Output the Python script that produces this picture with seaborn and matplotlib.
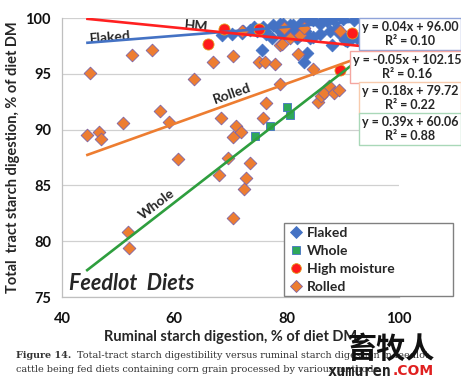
import numpy as np
import pandas as pd
import matplotlib
matplotlib.use("Agg")
import matplotlib.pyplot as plt
import seaborn as sns
from matplotlib.lines import Line2D
from matplotlib.patches import Rectangle

# ---------------- data ----------------
flaked_x = [68.4, 70.2, 72.0, 72.3, 73.5, 74.1, 74.8, 75.6, 75.8, 76.1, 76.4, 77.3, 77.6,
            78.8, 78.8, 79.4, 79.4, 80.6, 80.6, 81.2, 81.5, 81.8, 82.4, 83.0, 83.0, 83.3,
            83.6, 83.7, 84.2, 84.7, 84.7, 85.9, 85.9, 86.5, 87.1, 87.7, 88.0, 88.3, 88.9,
            89.5, 90.1, 90.4, 90.7, 91.3, 91.6, 91.9, 92.5, 93.6, 93.8]
flaked_y = [98.5, 98.6, 98.7, 98.8, 98.9, 99.2, 98.8, 97.1, 99.2, 98.8, 98.6, 98.2, 99.4,
            99.5, 98.8, 99.5, 98.5, 99.4, 98.6, 99.4, 98.8, 98.2, 99.5, 99.7, 96.1, 98.8,
            99.7, 96.9, 98.2, 99.8, 98.3, 99.5, 98.6, 99.8, 99.7, 98.8, 97.6, 99.9, 99.1,
            98.6, 99.9, 98.0, 97.9, 98.5, 98.2, 99.8, 98.2, 99.7, 99.8]

whole_x = [74.4, 77.0, 80.1, 80.6]
whole_y = [89.4, 90.3, 92.05, 91.3]

hm_x = [66.0, 68.9, 75.1, 89.5, 91.6]
hm_y = [97.7, 99.0, 99.0, 95.3, 98.7]

rolled_x = [44.5, 44.9, 46.5, 47.0, 50.9, 51.8, 51.9, 52.4, 56.1, 57.5, 59.1, 60.6, 63.5,
            66.9, 68.0, 68.3, 69.6, 70.4, 70.5, 70.5, 70.9, 71.9, 72.0, 72.4, 72.8, 73.4,
            75.1, 75.8, 76.2, 76.4, 77.9, 78.8, 78.8, 79.1, 79.6, 80.6, 82.1, 82.4, 83.1,
            84.6, 85.6, 86.2, 86.7, 87.5, 88.4, 89.3, 89.5]
rolled_y = [89.5, 95.1, 89.75, 89.2, 90.6, 80.8, 79.4, 96.7, 97.1, 91.7, 90.65, 87.4, 94.5,
            96.1, 85.9, 91.0, 87.5, 89.3, 96.6, 82.1, 90.35, 89.75, 98.8, 84.7, 85.7, 87.0,
            96.06, 91.0, 96.06, 92.4, 95.9, 94.1, 97.6, 97.7, 99.1, 98.2, 96.8, 98.5, 99.1,
            95.4, 92.5, 93.0, 93.25, 93.9, 93.3, 93.55, 98.8]

series = ["Flaked", "Whole", "High moisture", "Rolled"]
slopes = [0.04, 0.39, -0.05, 0.18]
intercepts = [96.00, 60.06, 102.15, 79.72]
r2 = [0.10, 0.88, 0.16, 0.22]
trend_range = [44.3, 93.0]

x_ticks = [40, 60, 80, 100]
y_ticks = [75, 80, 85, 90, 95, 100]

# ---------------- style ----------------
sns.set_style("white")
plt.rcParams["font.family"] = ["Lato", "DejaVu Sans"]

colors = {"Flaked": "#4472C4", "Whole": "#2EA85A", "High moisture": "#FF1A1A", "Rolled": "#ED7D31"}
edges = {"Flaked": "#4472C4", "Whole": "#4472C4", "High moisture": "#E0A020", "Rolled": "#8064A2"}
markers = {"Flaked": "D", "Whole": "s", "High moisture": "o", "Rolled": "D"}
sizes = {"Flaked": 42, "Whole": 38, "High moisture": 64, "Rolled": 42}
line_colors = {"Flaked": "#4472C4", "Whole": "#2E9E3E", "High moisture": "#FF2020", "Rolled": "#ED7D31"}

df = pd.concat([
    pd.DataFrame({"x": flaked_x, "y": flaked_y, "g": "Flaked"}),
    pd.DataFrame({"x": whole_x, "y": whole_y, "g": "Whole"}),
    pd.DataFrame({"x": hm_x, "y": hm_y, "g": "High moisture"}),
    pd.DataFrame({"x": rolled_x, "y": rolled_y, "g": "Rolled"}),
], ignore_index=True)

W, H = 461, 379
fig = plt.figure(figsize=(W / 100, H / 100), dpi=100)
ax = fig.add_axes([62 / W, 1 - 297 / H, (399 - 62) / W, (297 - 18) / H])

for g in ["Flaked", "Whole", "High moisture", "Rolled"]:
    sub = df[df.g == g]
    sns.scatterplot(data=sub, x="x", y="y", marker=markers[g], s=sizes[g],
                    color=colors[g], edgecolor=edges[g], linewidth=0.6,
                    ax=ax, legend=False, zorder=3)

xr = np.array(trend_range)
for g, m, b in zip(series, slopes, intercepts):
    ax.plot(xr, m * xr + b, color=line_colors[g], lw=1.9, zorder=4, solid_capstyle="butt")

ax.set_xlim(40, 100)
ax.set_ylim(75, 100)
ax.set_xticks(x_ticks)
ax.set_yticks(y_ticks)
ax.yaxis.grid(True, color="#D0D0D0", lw=0.9)
ax.set_axisbelow(True)
for s in ["top", "right"]:
    ax.spines[s].set_visible(False)
for s in ["left", "bottom"]:
    ax.spines[s].set_color("#BFBFBF")
    ax.spines[s].set_linewidth(0.9)
ax.tick_params(axis="both", length=4, width=0.9, color="#BFBFBF", pad=4,
               labelsize=10.5, labelcolor="#111111")
for lab in ax.get_xticklabels() + ax.get_yticklabels():
    lab.set_fontweight("bold")
ax.tick_params(axis="x", pad=7)
ax.set_xlabel("Ruminal starch digestion, % of diet DM", fontsize=10.5, fontweight="bold", labelpad=3)
ax.set_ylabel("Total  tract starch digestion, % of diet DM", fontsize=10.5, fontweight="bold", labelpad=4)

# line labels
ax.text(63.9, 99.3, "HM", fontsize=10, fontweight="bold", rotation=-5.5, ha="center", va="center")
ax.text(48.5, 98.3, "Flaked", fontsize=10, fontweight="bold", rotation=4.5, ha="center", va="center")
ax.text(70.3, 93.2, "Rolled", fontsize=10, fontweight="bold", rotation=19.5, ha="center", va="center")
ax.text(56.9, 83.3, "Whole", fontsize=10, fontweight="bold", rotation=37.5, ha="center", va="center")
ax.text(41.2, 76.25, "Feedlot  Diets", fontsize=15.5, fontweight="bold", style="italic",
        ha="left", va="center")

# equation boxes
box_specs = [
    (0, 410, 34, "#8FA3D9"),
    (2, 407, 67, "#F4A6A0"),
    (3, 410, 98, "#F8CBAD"),
    (1, 410, 129, "#A9D8B8"),
]
for i, px, py, ec in box_specs:
    m, b = slopes[i], intercepts[i]
    sign = "-" if m < 0 else ""
    txt = f"y = {sign}{abs(m):.2f}x + {b:.2f}\nR² = {r2[i]:.2f}"
    fig.text(px / W, 1 - py / H, txt, ha="center", va="center", multialignment="center",
             fontsize=9, fontweight="bold", linespacing=1.15,
             bbox=dict(boxstyle="square,pad=0.25", fc="white", ec=ec, lw=1.0))

# legend (frame drawn as a separate rectangle so it can be wider than its entries)
frame = Rectangle((284 / W, 1 - 296 / H), (453 - 284) / W, (296 - 223) / H,
                  transform=fig.transFigure, fc="white", ec="#808080", lw=1.0, zorder=6)
fig.add_artist(frame)
handles = [Line2D([], [], marker=markers[g], linestyle="none", markersize=6 if g != "High moisture" else 7,
                  markerfacecolor=colors[g], markeredgecolor=edges[g], markeredgewidth=0.6)
           for g in series]
leg = fig.legend(handles, series, loc="upper left", bbox_to_anchor=(286 / W, 1 - 223 / H),
                 frameon=False, prop={"weight": "bold", "size": 10}, handlelength=0.8,
                 handletextpad=0.4, labelspacing=0.42, borderpad=0.3, borderaxespad=0)
leg.set_zorder(7)

# caption
fig.text(16 / W, 1 - 356 / H, "Figure 14.", fontsize=6.9, fontweight="bold", family="DejaVu Serif",
         ha="left", va="center", color="#333333")
fig.text(77 / W, 1 - 356 / H,
         "Total-tract starch digestibility versus ruminal starch digestion in feedlot",
         fontsize=6.9, family="DejaVu Serif", ha="left", va="center", color="#333333")
fig.text(16 / W, 1 - 370 / H,
         "cattle being fed diets containing corn grain processed by various methods.",
         fontsize=6.9, family="DejaVu Serif", ha="left", va="center", color="#333333")

# watermark
fig.text(391 / W, 1 - 349 / H, "畜牧人", fontsize=21, fontweight="bold",
         family=["Noto Sans CJK SC", "DejaVu Sans"], ha="center", va="center", color="#111111")
fig.text(391 / W, 1 - 371 / H, "xumuren", fontsize=11, fontweight="bold", family="DejaVu Sans Mono",
         ha="right", va="center", color="#222222")
fig.text(393 / W, 1 - 371 / H, ".COM", fontsize=10, fontweight="bold", family="DejaVu Sans",
         ha="left", va="center", color="#E02020")

fig.savefig("out.png", dpi=100)
